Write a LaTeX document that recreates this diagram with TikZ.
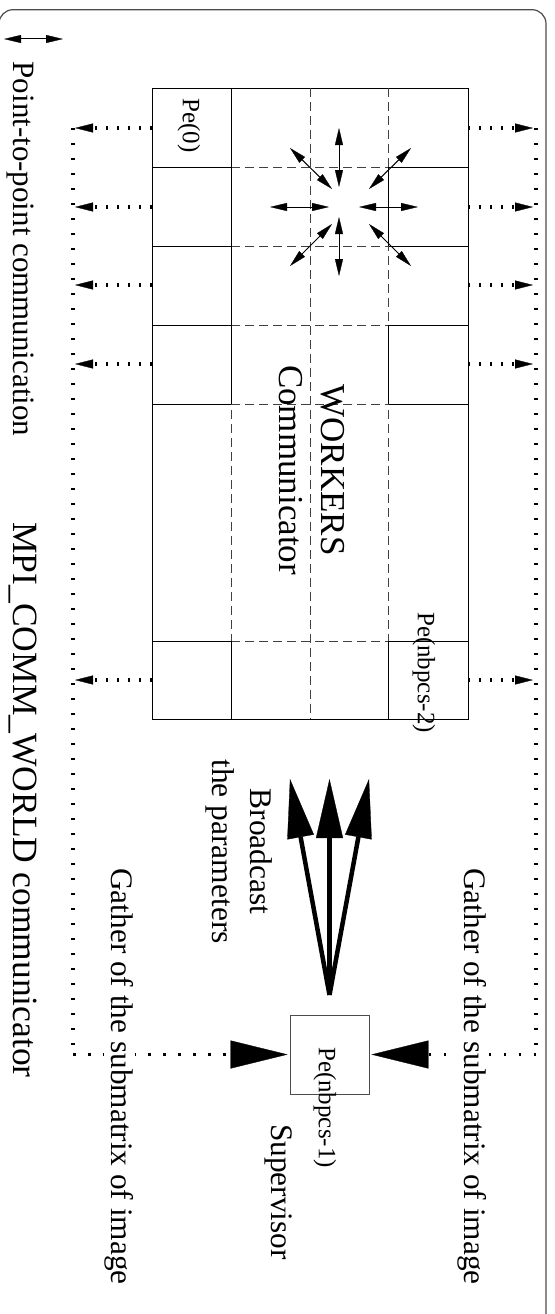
\documentclass[tikz,border=0pt]{standalone}
\usepackage{fontspec}
\setmainfont{Liberation Serif}
\usetikzlibrary{arrows.meta}
\begin{document}
\begin{tikzpicture}[x=1pt,y=-1pt,
  cell/.style={black, line width=0.9pt},
  dsh/.style={black!75, line width=1pt, dash pattern=on 9pt off 5pt},
  star/.style={line width=1pt, {Triangle[length=17pt,width=8pt,line width=0.3pt]}-{Triangle[length=17pt,width=8pt,line width=0.3pt]}},
  ptp/.style={line width=3.5pt, dash pattern=on 2pt off 9pt, -{Triangle[length=18pt,width=9pt,line width=0.3pt]}},
  vdots/.style={line width=4pt, dash pattern=on 1.8pt off 13.2pt},
  gather/.style={line width=3.5pt, dash pattern=on 2.5pt off 12.5pt, -{Triangle[length=57pt,width=28pt,line width=0.3pt]}, shorten >=2pt},
  bcast/.style={line width=4.5pt, -{Triangle[length=59pt,width=27pt,line width=0.3pt]}},
  lbl/.style={rotate=-90, inner sep=1pt},
  big/.style={lbl, font=\fontsize{35.5}{42}\selectfont},
  mid/.style={lbl, font=\fontsize{31.3}{38}\selectfont, align=center},
  small/.style={lbl, font=\fontsize{25}{30}\selectfont}
]
\useasboundingbox (0,0) rectangle (554,1314);
\clip (0,0) rectangle (554,1314);
% frame
\draw[black!70, line width=1.2pt, rounded corners=14pt] (-1,9.7) rectangle (546,1340);

% grid
\draw[cell] (152,88) rectangle (468,719);
\foreach \y in {167,246,325,404,641}{
  \draw[cell] (152,\y) -- (231,\y);
  \draw[cell] (388,\y) -- (468,\y);
  \draw[dsh] (231,\y) -- (388,\y);
}
\foreach \x in {231,310,388}{ \draw[dsh] (\x,88) -- (\x,719); }
\draw[cell] (231,88) -- (231,404);
\draw[cell] (231,641) -- (231,719);
\draw[cell] (388,167) -- (388,246);
\draw[cell] (388,325) -- (388,404);
\draw[cell] (388,641) -- (388,719);

% legend arrow
\coordinate (lg1) at (4,39);
\coordinate (lg2) at (63,39);
\draw[star] (lg1) -- (lg2);

% star of point-to-point arrows
\coordinate (su1) at (339,187); \coordinate (su2) at (339,128);
\coordinate (sd1) at (339,217); \coordinate (sd2) at (339,276);
\coordinate (sl1) at (329,207); \coordinate (sl2) at (270,207);
\coordinate (sr1) at (359,207); \coordinate (sr2) at (418,207);
\coordinate (nw1) at (332,189); \coordinate (nw2) at (290,148);
\coordinate (ne1) at (369,189); \coordinate (ne2) at (411,148);
\coordinate (sw1) at (332,224); \coordinate (sw2) at (290,266);
\coordinate (se1) at (369,224); \coordinate (se2) at (411,266);
\foreach \a in {su,sd,sl,sr,nw,ne,sw,se}{ \draw[star] (\a1) -- (\a2); }

% dotted point-to-point arrows out of the grid
\foreach \y [count=\i] in {128,207,285,364,680}{
  \coordinate (gl\i) at (152,\y); \coordinate (tl\i) at (75,\y);
  \coordinate (gr\i) at (468,\y); \coordinate (tr\i) at (533,\y);
  \draw[ptp] (gl\i) -- (tl\i);
  \draw[ptp] (gr\i) -- (tr\i);
}

% supervisor
\node[draw=black!70, line width=0.9pt, minimum width=79pt, minimum height=79pt, inner sep=0pt] (sup) at (329.5,1054.5) {};

% MPI_COMM_WORLD dotted frame and gather arrows
\coordinate (ltop) at (73,128);  \coordinate (lbot) at (73,1054.5);
\coordinate (rtop) at (536,128); \coordinate (rbot) at (536,1054.5);
\draw[vdots] (ltop) -- (lbot);
\draw[vdots] (rtop) -- (rbot);
\draw[gather] (lbot) -- (sup.west);
\draw[gather] (rbot) -- (sup.east);

% broadcast arrows
\coordinate (bsrc) at (329.5,995);
\coordinate (b1) at (290,779);
\coordinate (b2) at (329.5,779);
\coordinate (b3) at (369,779);
\foreach \b in {b1,b2,b3}{ \draw[bcast] (bsrc) -- (\b); }

% texts
\node[lbl, font=\fontsize{31}{37}\selectfont] (ptplbl) at (20,249) {Point-to-point communication};
\node[big] (mpi) at (22.5,800) {MPI\_COMM\_WORLD communicator};
\node[lbl, font=\fontsize{35}{42}\selectfont, align=center] (wk) at (312,470) {WORKERS\\Communicator};
\node[mid, font=\fontsize{31.5}{38.5}\selectfont] (bc) at (239,851.5) {Broadcast\\the parameters};
\node[mid, fill=white] (gl) at (119.3,1076.5) {Gather of the submatrix of image};
\node[mid, fill=white] (gr) at (472.3,1076.5) {Gather of the submatrix of image};
\node[mid] (svl) at (279,1192) {Supervisor};
\node[small] (pe1) at (325,1107.5) {Pe(nbpcs-1)};
\node[small] (pe0) at (189,125.5) {Pe(0)};
\node[small] (pe2) at (424,672.5) {Pe(nbpcs-2)};
\end{tikzpicture}
\end{document}
